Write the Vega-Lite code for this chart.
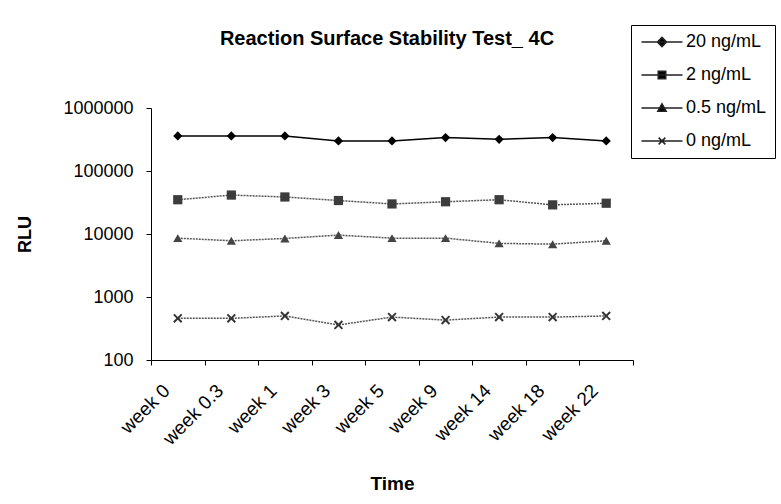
{
  "$schema": "https://vega.github.io/schema/vega-lite/v6.json",
  "width": 482,
  "height": 252,
  "autosize": "none",
  "padding": {"left": 151, "top": 108, "right": 148, "bottom": 144},
  "background": "white",
  "title": {
    "text": "Reaction Surface Stability Test_ 4C",
    "font": "Liberation Sans",
    "fontSize": 20,
    "fontWeight": "bold",
    "color": "#000",
    "anchor": "middle",
    "frame": "group",
    "baseline": "alphabetic",
    "dx": -5,
    "offset": -40
  },
  "config": {
    "view": {"stroke": null},
    "font": "Liberation Sans"
  },
  "data": {
    "values": [
      {"time": "week 0", "series": "20 ng/mL", "rlu": 360000},
      {"time": "week 0.3", "series": "20 ng/mL", "rlu": 360000},
      {"time": "week 1", "series": "20 ng/mL", "rlu": 360000},
      {"time": "week 3", "series": "20 ng/mL", "rlu": 300000},
      {"time": "week 5", "series": "20 ng/mL", "rlu": 300000},
      {"time": "week 9", "series": "20 ng/mL", "rlu": 340000},
      {"time": "week 14", "series": "20 ng/mL", "rlu": 318000},
      {"time": "week 18", "series": "20 ng/mL", "rlu": 340000},
      {"time": "week 22", "series": "20 ng/mL", "rlu": 300000},
      {"time": "week 0", "series": "2 ng/mL", "rlu": 35000},
      {"time": "week 0.3", "series": "2 ng/mL", "rlu": 41500},
      {"time": "week 1", "series": "2 ng/mL", "rlu": 38700},
      {"time": "week 3", "series": "2 ng/mL", "rlu": 34000},
      {"time": "week 5", "series": "2 ng/mL", "rlu": 30000},
      {"time": "week 9", "series": "2 ng/mL", "rlu": 32500},
      {"time": "week 14", "series": "2 ng/mL", "rlu": 35000},
      {"time": "week 18", "series": "2 ng/mL", "rlu": 29000},
      {"time": "week 22", "series": "2 ng/mL", "rlu": 30800},
      {"time": "week 0", "series": "0.5 ng/mL", "rlu": 8600},
      {"time": "week 0.3", "series": "0.5 ng/mL", "rlu": 7800},
      {"time": "week 1", "series": "0.5 ng/mL", "rlu": 8500},
      {"time": "week 3", "series": "0.5 ng/mL", "rlu": 9600},
      {"time": "week 5", "series": "0.5 ng/mL", "rlu": 8600},
      {"time": "week 9", "series": "0.5 ng/mL", "rlu": 8600},
      {"time": "week 14", "series": "0.5 ng/mL", "rlu": 7100},
      {"time": "week 18", "series": "0.5 ng/mL", "rlu": 6900},
      {"time": "week 22", "series": "0.5 ng/mL", "rlu": 7800},
      {"time": "week 0", "series": "0 ng/mL", "rlu": 459},
      {"time": "week 0.3", "series": "0 ng/mL", "rlu": 459},
      {"time": "week 1", "series": "0 ng/mL", "rlu": 500},
      {"time": "week 3", "series": "0 ng/mL", "rlu": 360},
      {"time": "week 5", "series": "0 ng/mL", "rlu": 480},
      {"time": "week 9", "series": "0 ng/mL", "rlu": 430},
      {"time": "week 14", "series": "0 ng/mL", "rlu": 480},
      {"time": "week 18", "series": "0 ng/mL", "rlu": 480},
      {"time": "week 22", "series": "0 ng/mL", "rlu": 500}
    ]
  },
  "encoding": {
    "x": {
      "field": "time",
      "type": "nominal",
      "sort": null,
      "scale": {"type": "band", "paddingInner": 0, "paddingOuter": 0},
      "axis": {
        "title": "Time",
        "titleFont": "Liberation Sans",
        "titleFontSize": 19,
        "titleFontWeight": "bold",
        "titleColor": "#000",
        "titlePadding": 26,
        "labelAngle": -45,
        "labelFontSize": 19,
        "labelColor": "#000",
        "labelPadding": 16,
        "labelOffset": -18,
        "tickBand": "extent",
        "tickColor": "#000",
        "tickSize": 5,
        "domainColor": "#000",
        "grid": false
      }
    },
    "y": {
      "field": "rlu",
      "type": "quantitative",
      "scale": {"type": "log", "domain": [100, 1000000], "nice": false},
      "axis": {
        "title": "RLU",
        "titleFont": "Liberation Sans",
        "titleFontSize": 18,
        "titleFontWeight": "bold",
        "titleColor": "#000",
        "titlePadding": 28,
        "values": [100, 1000, 10000, 100000, 1000000],
        "format": "d",
        "labelFontSize": 18,
        "labelColor": "#000",
        "labelPadding": 13,
        "tickColor": "#000",
        "tickSize": 5,
        "domainColor": "#000",
        "grid": false
      }
    }
  },
  "resolve": {"scale": {"shape": "independent"}},
  "layer": [
    {
      "transform": [{"filter": "datum.series === '20 ng/mL'"}],
      "mark": {"type": "line", "strokeWidth": 1.5, "color": "#000"},
      "encoding": {"detail": {"field": "series", "type": "nominal"}}
    },
    {
      "transform": [{"filter": "datum.series !== '20 ng/mL'"}],
      "mark": {"type": "line", "strokeWidth": 1.5, "color": "#555", "strokeDash": [2, 1]},
      "encoding": {"detail": {"field": "series", "type": "nominal"}}
    },
    {
      "mark": {"type": "point", "filled": true, "opacity": 1, "size": 85},
      "encoding": {
        "color": {
          "field": "series",
          "type": "nominal",
          "scale": {
            "domain": ["20 ng/mL", "2 ng/mL", "0.5 ng/mL", "0 ng/mL"],
            "range": ["#000000", "#3c3c3c", "#444444", "#333333"]
          },
          "legend": null
        },
        "shape": {
          "field": "series",
          "type": "nominal",
          "scale": {
            "domain": ["20 ng/mL", "2 ng/mL", "0.5 ng/mL", "0 ng/mL"],
            "range": ["diamond", "square", "triangle-up", "M-1,-0.7L-0.7,-1L0,-0.3L0.7,-1L1,-0.7L0.3,0L1,0.7L0.7,1L0,0.3L-0.7,1L-1,0.7L-0.3,0Z"]
          },
          "legend": null
        }
      }
    },
    {
      "transform": [{"filter": "false"}],
      "mark": {"type": "point", "filled": true, "opacity": 1, "size": 70, "stroke": "#222", "strokeWidth": 1.5},
      "encoding": {
        "color": {
          "field": "series",
          "type": "nominal",
          "scale": {
            "domain": ["20 ng/mL", "2 ng/mL", "0.5 ng/mL", "0 ng/mL"],
            "range": ["#000000", "#3c3c3c", "#444444", "#333333"]
          }
        },
        "strokeDash": {
          "field": "series",
          "type": "nominal",
          "scale": {
            "domain": ["20 ng/mL", "2 ng/mL", "0.5 ng/mL", "0 ng/mL"],
            "range": [[1, 0], [2, 1], [2, 1], [2, 1]]
          }
        },
        "shape": {
          "field": "series",
          "type": "nominal",
          "scale": {
            "domain": ["20 ng/mL", "2 ng/mL", "0.5 ng/mL", "0 ng/mL"],
            "range": [
              "M-4.9,0L4.9,0M0,-1.1L1.1,0L0,1.1L-1.1,0Z",
              "M-4.9,0L4.9,0M-0.9,-0.9L0.9,-0.9L0.9,0.9L-0.9,0.9Z",
              "M-4.9,0L4.9,0M0,-1L1,0.8L-1,0.8Z",
              "M-4.9,0L4.9,0M-0.8,-0.8L0.8,0.8M-0.8,0.8L0.8,-0.8"
            ]
          },
          "legend": {
            "title": null,
            "orient": "none",
            "legendX": 480,
            "legendY": -83,
            "strokeColor": "#000",
            "fillColor": "#fff",
            "padding": 8,
            "labelFontSize": 18,
            "labelColor": "#000",
            "labelFont": "Liberation Sans",
            "rowPadding": 15,
            "symbolOffset": 14,
            "labelOffset": 15,
            "symbolSize": 70,
            "symbolStrokeWidth": 1.5
          }
        }
      }
    }
  ]
}
